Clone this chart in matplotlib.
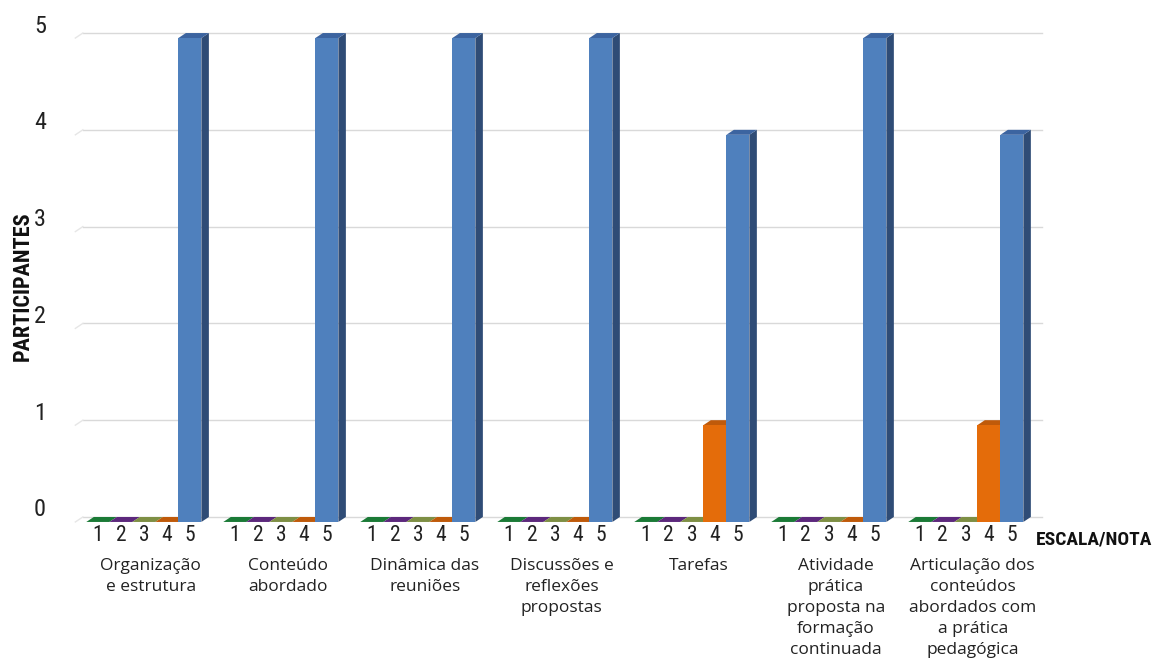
import numpy as np
import matplotlib
matplotlib.use("Agg")
import matplotlib.pyplot as plt
from matplotlib.patches import Polygon, Rectangle

# dados da avaliação
categorias = ["Organização\ne estrutura", "Conteúdo\nabordado", "Dinâmica das\nreuniões",
              "Discussões e\nreflexões\npropostas", "Tarefas",
              "Atividade\nprática\nproposta na\nformação\ncontinuada",
              "Articulação dos\nconteúdos\nabordados com\na prática\npedagógica"]
notas = ["1", "2", "3", "4", "5"]
nota1 = [0, 0, 0, 0, 0, 0, 0]
nota2 = [0, 0, 0, 0, 0, 0, 0]
nota3 = [0, 0, 0, 0, 0, 0, 0]
nota4 = [0, 0, 0, 0, 1, 0, 1]
nota5 = [5, 5, 5, 5, 4, 5, 4]
series = [nota1, nota2, nota3, nota4, nota5]

# cores: frente, topo, lateral
cores = [("#1e8a3e", "#1a7a36", "#145e2a"),
         ("#6a2e8e", "#5c287c", "#46205e"),
         ("#8ea04e", "#7e8f44", "#606d34"),
         ("#e46c0a", "#bf5a0a", "#9a4808"),
         ("#4f80bd", "#3c64a0", "#2f4c76")]

cond = ["Roboto Condensed", "Open Sans Condensed", "Liberation Sans Narrow",
        "DejaVu Sans Condensed", "DejaVu Sans"]
texto = ["Open Sans", "DejaVu Sans"]

fig = plt.figure(figsize=(11.52, 6.6), dpi=100)
ax = fig.add_axes([70/1152, 130/660, 975/1152, 500/660])
ax.set_xlim(-0.539, 6.578)
ax.set_ylim(-0.083, 5.083)
ax.axis("off")

# profundidade do efeito 3D (em pixels -> dados)
inv = ax.transData.inverted()
p0 = inv.transform(ax.transData.transform((0, 0)))
p1 = inv.transform(ax.transData.transform((0, 0)) + np.array([7.5, 5.0]))
dx, dy = p1 - p0

w = 0.168
x = np.arange(len(categorias))

# linhas de grade na parede do fundo
for v in range(6):
    ax.plot([-0.5 + dx, 6.5 + dx], [v + dy, v + dy], color="#d9d9d9", lw=1, zorder=0)
    ax.plot([-0.5, -0.5 + dx], [v, v + dy], color="#e6e6e6", lw=1, zorder=0)
    ax.annotate(str(v), (0, v), xycoords=("axes fraction", "data"),
                xytext=(-30*0.72, 12*0.72), textcoords="offset points",
                ha="center", va="center", fontsize=17.5, family=cond,
                fontstretch="condensed", color="#222222")

for g in x:
    for i, serie in enumerate(series):
        v = serie[g]
        xl = g - 2.5*w + i*w
        fr, tp, sd = cores[i]
        ax.add_patch(Polygon([(xl + w, 0), (xl + w, v), (xl + w + dx, v + dy), (xl + w + dx, dy)],
                             closed=True, fc=sd, ec="none", zorder=2))
        ax.add_patch(Polygon([(xl, v), (xl + w, v), (xl + w + dx, v + dy), (xl + dx, v + dy)],
                             closed=True, fc=tp, ec="none", zorder=2))
        if v > 0:
            ax.add_patch(Rectangle((xl, 0), w, v, fc=fr, ec="none", zorder=3))
        ax.annotate(notas[i], (xl + w/2, 0), xytext=(0, -14*0.72), textcoords="offset points",
                    ha="center", va="center", fontsize=15.5, family=cond,
                    fontstretch="condensed", color="#222222", annotation_clip=False)
    ax.annotate(categorias[g], (g + 0.05, 0), xytext=(0, -36*0.72), textcoords="offset points",
                ha="center", va="top", fontsize=12.5, family=texto, color="#222222",
                linespacing=1.42, annotation_clip=False)

fig.text(1036/1152, 1 - 540/660, "ESCALA/NOTA", ha="left", va="center",
         fontsize=14, fontweight="bold", family=cond, fontstretch="condensed", color="#111111")
fig.text(23/1152, 1 - 286/660, "PARTICIPANTES", ha="center", va="center", rotation=90,
         fontsize=16, fontweight="bold", family=cond, fontstretch="condensed", color="#111111")

fig.savefig("out.png", dpi=100)
